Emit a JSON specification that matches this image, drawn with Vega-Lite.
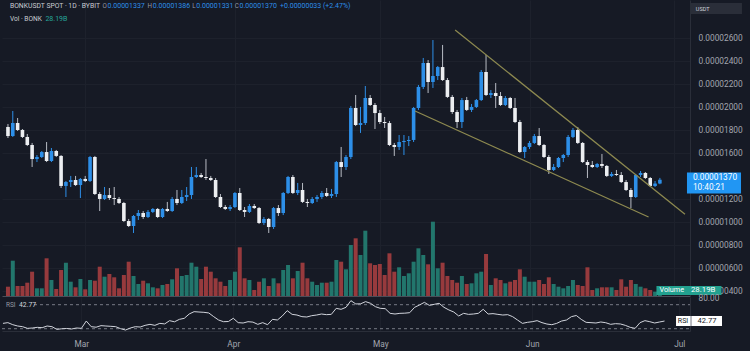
{
"$schema":"https://vega.github.io/schema/vega-lite/v6.json",
"padding":0,
"background":"#161a25",
"bounds":"flush",
"spacing":1,
"config":{"view":{"stroke":null},"text":{"font":"Roboto"},"axis":{"labelFont":"Roboto"}},
"datasets":{
"bars":[
{"date":"2025-02-13","open":0.00001829,"high":0.00001855,"low":0.00001733,"close":0.0000175,"volume":93000000000,"rsi":38.9},
{"date":"2025-02-14","open":0.0000175,"high":0.00001968,"low":0.00001742,"close":0.00001863,"volume":353000000000,"rsi":40.1},
{"date":"2025-02-15","open":0.00001863,"high":0.00001907,"low":0.00001794,"close":0.00001803,"volume":100000000000,"rsi":36.7},
{"date":"2025-02-16","open":0.00001803,"high":0.00001811,"low":0.00001733,"close":0.00001742,"volume":100000000000,"rsi":34.5},
{"date":"2025-02-17","open":0.00001742,"high":0.00001768,"low":0.00001663,"close":0.00001672,"volume":133000000000,"rsi":33.4},
{"date":"2025-02-18","open":0.00001672,"high":0.0000169,"low":0.00001481,"close":0.0000155,"volume":243000000000,"rsi":30.6},
{"date":"2025-02-19","open":0.0000155,"high":0.00001585,"low":0.00001524,"close":0.00001568,"volume":77000000000,"rsi":31.2},
{"date":"2025-02-20","open":0.00001568,"high":0.0000162,"low":0.00001559,"close":0.00001611,"volume":77000000000,"rsi":32.3},
{"date":"2025-02-21","open":0.00001611,"high":0.00001698,"low":0.00001524,"close":0.00001533,"volume":377000000000,"rsi":31.7},
{"date":"2025-02-22","open":0.00001533,"high":0.00001646,"low":0.00001524,"close":0.0000162,"volume":160000000000,"rsi":34.5},
{"date":"2025-02-23","open":0.0000162,"high":0.00001629,"low":0.00001568,"close":0.00001577,"volume":70000000000,"rsi":33.4},
{"date":"2025-02-24","open":0.00001577,"high":0.00001585,"low":0.00001298,"close":0.00001316,"volume":260000000000,"rsi":28.9},
{"date":"2025-02-25","open":0.00001316,"high":0.00001359,"low":0.0000122,"close":0.0000135,"volume":333000000000,"rsi":29.9},
{"date":"2025-02-26","open":0.0000135,"high":0.00001403,"low":0.00001307,"close":0.00001368,"volume":143000000000,"rsi":30.4},
{"date":"2025-02-27","open":0.00001368,"high":0.00001403,"low":0.00001316,"close":0.00001324,"volume":87000000000,"rsi":29.5},
{"date":"2025-02-28","open":0.00001324,"high":0.00001385,"low":0.00001211,"close":0.00001377,"volume":170000000000,"rsi":31.2},
{"date":"2025-03-01","open":0.00001377,"high":0.00001403,"low":0.0000135,"close":0.00001359,"volume":67000000000,"rsi":30.6},
{"date":"2025-03-02","open":0.00001359,"high":0.00001577,"low":0.0000135,"close":0.00001568,"volume":160000000000,"rsi":42.8},
{"date":"2025-03-03","open":0.00001568,"high":0.00001577,"low":0.00001237,"close":0.00001246,"volume":153000000000,"rsi":33.4},
{"date":"2025-03-04","open":0.00001246,"high":0.00001263,"low":0.00001098,"close":0.00001203,"volume":293000000000,"rsi":32.5},
{"date":"2025-03-05","open":0.00001203,"high":0.00001307,"low":0.00001194,"close":0.00001237,"volume":193000000000,"rsi":35.1},
{"date":"2025-03-06","open":0.00001237,"high":0.00001298,"low":0.00001194,"close":0.00001211,"volume":220000000000,"rsi":34.5},
{"date":"2025-03-07","open":0.00001211,"high":0.00001307,"low":0.0000115,"close":0.00001203,"volume":187000000000,"rsi":34.0},
{"date":"2025-03-08","open":0.00001203,"high":0.0000122,"low":0.00001159,"close":0.00001168,"volume":77000000000,"rsi":33.4},
{"date":"2025-03-09","open":0.00001168,"high":0.00001177,"low":0.00001003,"close":0.00001011,"volume":210000000000,"rsi":30.1},
{"date":"2025-03-10","open":0.00001011,"high":0.00001029,"low":0.00000959,"close":0.00000968,"volume":343000000000,"rsi":27.8},
{"date":"2025-03-11","open":0.00000968,"high":0.00001063,"low":0.00000907,"close":0.00001055,"volume":200000000000,"rsi":31.2},
{"date":"2025-03-12","open":0.00001055,"high":0.00001107,"low":0.0000102,"close":0.00001081,"volume":120000000000,"rsi":33.4},
{"date":"2025-03-13","open":0.00001081,"high":0.00001098,"low":0.00001029,"close":0.00001046,"volume":153000000000,"rsi":32.8},
{"date":"2025-03-14","open":0.00001046,"high":0.00001107,"low":0.00001037,"close":0.0000109,"volume":127000000000,"rsi":35.6},
{"date":"2025-03-15","open":0.0000109,"high":0.00001124,"low":0.00001081,"close":0.00001116,"volume":87000000000,"rsi":37.3},
{"date":"2025-03-16","open":0.00001116,"high":0.00001124,"low":0.00001037,"close":0.00001046,"volume":77000000000,"rsi":35.6},
{"date":"2025-03-17","open":0.00001046,"high":0.00001124,"low":0.00001037,"close":0.00001116,"volume":110000000000,"rsi":38.9},
{"date":"2025-03-18","open":0.00001116,"high":0.00001177,"low":0.0000109,"close":0.00001098,"volume":120000000000,"rsi":38.0},
{"date":"2025-03-19","open":0.00001098,"high":0.0000122,"low":0.0000109,"close":0.00001203,"volume":167000000000,"rsi":43.4},
{"date":"2025-03-20","open":0.00001203,"high":0.00001281,"low":0.0000115,"close":0.00001168,"volume":277000000000,"rsi":41.5},
{"date":"2025-03-21","open":0.00001168,"high":0.00001281,"low":0.00001159,"close":0.0000122,"volume":200000000000,"rsi":45.6},
{"date":"2025-03-22","open":0.0000122,"high":0.00001307,"low":0.00001185,"close":0.00001237,"volume":210000000000,"rsi":47.3},
{"date":"2025-03-23","open":0.00001237,"high":0.00001481,"low":0.00001203,"close":0.00001394,"volume":333000000000,"rsi":54.5},
{"date":"2025-03-24","open":0.00001394,"high":0.00001481,"low":0.00001385,"close":0.00001411,"volume":293000000000,"rsi":58.4},
{"date":"2025-03-25","open":0.00001411,"high":0.00001429,"low":0.00001385,"close":0.00001394,"volume":170000000000,"rsi":57.8},
{"date":"2025-03-26","open":0.00001394,"high":0.0000155,"low":0.00001368,"close":0.00001385,"volume":293000000000,"rsi":57.3},
{"date":"2025-03-27","open":0.00001385,"high":0.00001403,"low":0.00001359,"close":0.00001368,"volume":243000000000,"rsi":56.2},
{"date":"2025-03-28","open":0.00001368,"high":0.00001385,"low":0.00001211,"close":0.0000122,"volume":177000000000,"rsi":50.1},
{"date":"2025-03-29","open":0.0000122,"high":0.00001246,"low":0.00001124,"close":0.00001133,"volume":143000000000,"rsi":44.5},
{"date":"2025-03-30","open":0.00001133,"high":0.0000115,"low":0.00001107,"close":0.00001116,"volume":100000000000,"rsi":41.7},
{"date":"2025-03-31","open":0.00001116,"high":0.0000115,"low":0.00001098,"close":0.00001133,"volume":160000000000,"rsi":42.0},
{"date":"2025-04-01","open":0.00001133,"high":0.00001263,"low":0.00001124,"close":0.00001255,"volume":243000000000,"rsi":47.3},
{"date":"2025-04-02","open":0.00001255,"high":0.00001298,"low":0.00001098,"close":0.00001107,"volume":487000000000,"rsi":40.1},
{"date":"2025-04-03","open":0.00001107,"high":0.00001133,"low":0.00001046,"close":0.0000109,"volume":177000000000,"rsi":39.5},
{"date":"2025-04-04","open":0.0000109,"high":0.00001159,"low":0.00001081,"close":0.00001142,"volume":160000000000,"rsi":41.7},
{"date":"2025-04-05","open":0.00001142,"high":0.00001159,"low":0.00001116,"close":0.00001124,"volume":60000000000,"rsi":41.0},
{"date":"2025-04-06","open":0.00001124,"high":0.00001133,"low":0.00000985,"close":0.00000994,"volume":143000000000,"rsi":37.3},
{"date":"2025-04-07","open":0.00000994,"high":0.00001046,"low":0.00000977,"close":0.00001029,"volume":177000000000,"rsi":40.1},
{"date":"2025-04-08","open":0.00001029,"high":0.00001037,"low":0.00000907,"close":0.00000959,"volume":100000000000,"rsi":36.7},
{"date":"2025-04-09","open":0.00000959,"high":0.00001133,"low":0.00000942,"close":0.00001124,"volume":177000000000,"rsi":45.6},
{"date":"2025-04-10","open":0.00001124,"high":0.0000115,"low":0.00001055,"close":0.00001081,"volume":127000000000,"rsi":44.5},
{"date":"2025-04-11","open":0.00001081,"high":0.00001263,"low":0.00001063,"close":0.00001255,"volume":260000000000,"rsi":51.2},
{"date":"2025-04-12","open":0.00001255,"high":0.00001403,"low":0.00001246,"close":0.00001394,"volume":310000000000,"rsi":60.1},
{"date":"2025-04-13","open":0.00001394,"high":0.00001411,"low":0.00001246,"close":0.00001255,"volume":177000000000,"rsi":53.9},
{"date":"2025-04-14","open":0.00001255,"high":0.00001342,"low":0.00001237,"close":0.00001281,"volume":250000000000,"rsi":52.8},
{"date":"2025-04-15","open":0.00001281,"high":0.00001342,"low":0.00001168,"close":0.00001177,"volume":333000000000,"rsi":50.1},
{"date":"2025-04-16","open":0.00001177,"high":0.00001203,"low":0.00001133,"close":0.00001168,"volume":177000000000,"rsi":49.5},
{"date":"2025-04-17","open":0.00001168,"high":0.0000122,"low":0.00001159,"close":0.00001203,"volume":143000000000,"rsi":51.7},
{"date":"2025-04-18","open":0.00001203,"high":0.00001237,"low":0.00001177,"close":0.0000122,"volume":110000000000,"rsi":52.8},
{"date":"2025-04-19","open":0.0000122,"high":0.00001272,"low":0.00001203,"close":0.00001255,"volume":133000000000,"rsi":54.5},
{"date":"2025-04-20","open":0.00001255,"high":0.00001298,"low":0.0000122,"close":0.00001229,"volume":133000000000,"rsi":53.4},
{"date":"2025-04-21","open":0.00001229,"high":0.0000129,"low":0.00001211,"close":0.00001246,"volume":143000000000,"rsi":53.9},
{"date":"2025-04-22","open":0.00001246,"high":0.00001533,"low":0.0000122,"close":0.00001524,"volume":360000000000,"rsi":63.9},
{"date":"2025-04-23","open":0.00001524,"high":0.00001655,"low":0.00001394,"close":0.00001481,"volume":343000000000,"rsi":62.3},
{"date":"2025-04-24","open":0.00001481,"high":0.00001585,"low":0.00001455,"close":0.00001568,"volume":267000000000,"rsi":65.6},
{"date":"2025-04-25","open":0.00001568,"high":0.00002011,"low":0.0000155,"close":0.00001994,"volume":510000000000,"rsi":76.7},
{"date":"2025-04-26","open":0.00001994,"high":0.00002107,"low":0.00001837,"close":0.00001846,"volume":577000000000,"rsi":71.2},
{"date":"2025-04-27","open":0.00001846,"high":0.00002003,"low":0.00001777,"close":0.00001863,"volume":410000000000,"rsi":71.5},
{"date":"2025-04-28","open":0.00001863,"high":0.00002185,"low":0.00001846,"close":0.00002081,"volume":653000000000,"rsi":75.1},
{"date":"2025-04-29","open":0.00002081,"high":0.00002107,"low":0.00002011,"close":0.0000202,"volume":327000000000,"rsi":72.3},
{"date":"2025-04-30","open":0.0000202,"high":0.00002037,"low":0.00001811,"close":0.0000195,"volume":310000000000,"rsi":66.7},
{"date":"2025-05-01","open":0.0000195,"high":0.00001977,"low":0.00001855,"close":0.00001872,"volume":320000000000,"rsi":63.9},
{"date":"2025-05-02","open":0.00001872,"high":0.00001916,"low":0.0000182,"close":0.00001863,"volume":210000000000,"rsi":63.4},
{"date":"2025-05-03","open":0.00001863,"high":0.00001881,"low":0.00001663,"close":0.00001672,"volume":427000000000,"rsi":55.6},
{"date":"2025-05-04","open":0.00001672,"high":0.0000169,"low":0.00001577,"close":0.00001655,"volume":243000000000,"rsi":54.5},
{"date":"2025-05-05","open":0.00001655,"high":0.00001759,"low":0.00001629,"close":0.00001698,"volume":287000000000,"rsi":55.6},
{"date":"2025-05-06","open":0.00001698,"high":0.00001759,"low":0.00001585,"close":0.00001707,"volume":200000000000,"rsi":55.9},
{"date":"2025-05-07","open":0.00001707,"high":0.0000175,"low":0.00001663,"close":0.00001716,"volume":227000000000,"rsi":56.7},
{"date":"2025-05-08","open":0.00001716,"high":0.00002003,"low":0.00001698,"close":0.00001994,"volume":343000000000,"rsi":65.6},
{"date":"2025-05-09","open":0.00001994,"high":0.00002194,"low":0.00001977,"close":0.00002177,"volume":477000000000,"rsi":69.5},
{"date":"2025-05-10","open":0.00002177,"high":0.00002429,"low":0.00002159,"close":0.00002385,"volume":410000000000,"rsi":73.9},
{"date":"2025-05-11","open":0.00002385,"high":0.00002411,"low":0.00002124,"close":0.0000222,"volume":317000000000,"rsi":68.9},
{"date":"2025-05-12","open":0.0000222,"high":0.00002585,"low":0.00002168,"close":0.00002272,"volume":743000000000,"rsi":70.6},
{"date":"2025-05-13","open":0.00002272,"high":0.00002359,"low":0.00002237,"close":0.0000235,"volume":277000000000,"rsi":72.3},
{"date":"2025-05-14","open":0.0000235,"high":0.00002542,"low":0.00002229,"close":0.00002237,"volume":333000000000,"rsi":65.6},
{"date":"2025-05-15","open":0.00002237,"high":0.00002255,"low":0.00002081,"close":0.0000209,"volume":200000000000,"rsi":61.2},
{"date":"2025-05-16","open":0.0000209,"high":0.00002107,"low":0.00001942,"close":0.00001959,"volume":160000000000,"rsi":57.8},
{"date":"2025-05-17","open":0.00001959,"high":0.00001977,"low":0.0000182,"close":0.00001872,"volume":133000000000,"rsi":51.2},
{"date":"2025-05-18","open":0.00001872,"high":0.00002081,"low":0.0000182,"close":0.00002063,"volume":200000000000,"rsi":55.6},
{"date":"2025-05-19","open":0.00002063,"high":0.0000209,"low":0.00001968,"close":0.00001977,"volume":120000000000,"rsi":53.9},
{"date":"2025-05-20","open":0.00001977,"high":0.00002029,"low":0.00001959,"close":0.00002003,"volume":127000000000,"rsi":54.5},
{"date":"2025-05-21","open":0.00002003,"high":0.00002072,"low":0.00001994,"close":0.00002063,"volume":227000000000,"rsi":55.6},
{"date":"2025-05-22","open":0.00002063,"high":0.00002324,"low":0.00002055,"close":0.00002307,"volume":243000000000,"rsi":62.3},
{"date":"2025-05-23","open":0.00002307,"high":0.00002455,"low":0.00002098,"close":0.00002107,"volume":420000000000,"rsi":54.5},
{"date":"2025-05-24","open":0.00002107,"high":0.0000215,"low":0.00002081,"close":0.00002124,"volume":110000000000,"rsi":55.1},
{"date":"2025-05-25","open":0.00002124,"high":0.00002211,"low":0.00001994,"close":0.00002098,"volume":177000000000,"rsi":53.9},
{"date":"2025-05-26","open":0.00002098,"high":0.00002133,"low":0.00002011,"close":0.0000202,"volume":160000000000,"rsi":52.8},
{"date":"2025-05-27","open":0.0000202,"high":0.00002098,"low":0.00002011,"close":0.00002081,"volume":127000000000,"rsi":53.4},
{"date":"2025-05-28","open":0.00002081,"high":0.0000209,"low":0.00001985,"close":0.00001994,"volume":143000000000,"rsi":50.1},
{"date":"2025-05-29","open":0.00001994,"high":0.00002081,"low":0.00001863,"close":0.00001872,"volume":160000000000,"rsi":44.5},
{"date":"2025-05-30","open":0.00001872,"high":0.0000189,"low":0.00001603,"close":0.00001611,"volume":267000000000,"rsi":38.9},
{"date":"2025-05-31","open":0.00001611,"high":0.00001663,"low":0.00001559,"close":0.00001655,"volume":193000000000,"rsi":40.6},
{"date":"2025-06-01","open":0.00001655,"high":0.00001707,"low":0.00001637,"close":0.0000169,"volume":143000000000,"rsi":41.7},
{"date":"2025-06-02","open":0.0000169,"high":0.00001768,"low":0.00001681,"close":0.0000175,"volume":143000000000,"rsi":43.4},
{"date":"2025-06-03","open":0.0000175,"high":0.0000182,"low":0.00001663,"close":0.00001672,"volume":160000000000,"rsi":40.1},
{"date":"2025-06-04","open":0.00001672,"high":0.00001681,"low":0.00001559,"close":0.00001568,"volume":120000000000,"rsi":37.8},
{"date":"2025-06-05","open":0.00001568,"high":0.00001585,"low":0.0000142,"close":0.00001455,"volume":187000000000,"rsi":36.7},
{"date":"2025-06-06","open":0.00001455,"high":0.00001507,"low":0.00001446,"close":0.00001481,"volume":120000000000,"rsi":38.9},
{"date":"2025-06-07","open":0.00001481,"high":0.00001568,"low":0.00001472,"close":0.00001559,"volume":93000000000,"rsi":42.8},
{"date":"2025-06-08","open":0.00001559,"high":0.00001594,"low":0.00001524,"close":0.00001585,"volume":77000000000,"rsi":44.5},
{"date":"2025-06-09","open":0.00001585,"high":0.00001759,"low":0.00001568,"close":0.00001742,"volume":100000000000,"rsi":50.1},
{"date":"2025-06-10","open":0.00001742,"high":0.0000182,"low":0.00001733,"close":0.00001803,"volume":160000000000,"rsi":52.0},
{"date":"2025-06-11","open":0.00001803,"high":0.00001829,"low":0.00001681,"close":0.0000169,"volume":110000000000,"rsi":45.6},
{"date":"2025-06-12","open":0.0000169,"high":0.00001698,"low":0.00001516,"close":0.00001524,"volume":100000000000,"rsi":40.6},
{"date":"2025-06-13","open":0.00001524,"high":0.00001542,"low":0.00001385,"close":0.00001498,"volume":287000000000,"rsi":40.1},
{"date":"2025-06-14","open":0.00001498,"high":0.00001533,"low":0.00001472,"close":0.00001481,"volume":60000000000,"rsi":39.5},
{"date":"2025-06-15","open":0.00001481,"high":0.00001516,"low":0.00001472,"close":0.00001507,"volume":77000000000,"rsi":41.2},
{"date":"2025-06-16","open":0.00001507,"high":0.00001594,"low":0.00001472,"close":0.0000149,"volume":87000000000,"rsi":40.0},
{"date":"2025-06-17","open":0.0000149,"high":0.00001498,"low":0.00001394,"close":0.00001403,"volume":87000000000,"rsi":37.3},
{"date":"2025-06-18","open":0.00001403,"high":0.00001437,"low":0.00001394,"close":0.0000142,"volume":87000000000,"rsi":38.4},
{"date":"2025-06-19","open":0.0000142,"high":0.00001455,"low":0.00001403,"close":0.00001411,"volume":60000000000,"rsi":37.9},
{"date":"2025-06-20","open":0.00001411,"high":0.00001437,"low":0.00001342,"close":0.0000135,"volume":167000000000,"rsi":35.6},
{"date":"2025-06-21","open":0.0000135,"high":0.00001368,"low":0.00001272,"close":0.00001281,"volume":93000000000,"rsi":32.3},
{"date":"2025-06-22","open":0.00001281,"high":0.00001298,"low":0.00001124,"close":0.0000122,"volume":160000000000,"rsi":30.6},
{"date":"2025-06-23","open":0.0000122,"high":0.0000142,"low":0.00001211,"close":0.00001411,"volume":120000000000,"rsi":40.1},
{"date":"2025-06-24","open":0.00001411,"high":0.00001446,"low":0.00001394,"close":0.00001429,"volume":93000000000,"rsi":43.4},
{"date":"2025-06-25","open":0.00001429,"high":0.00001437,"low":0.00001377,"close":0.00001385,"volume":77000000000,"rsi":41.7},
{"date":"2025-06-26","open":0.00001385,"high":0.00001394,"low":0.00001307,"close":0.00001316,"volume":60000000000,"rsi":39.5},
{"date":"2025-06-27","open":0.00001316,"high":0.00001359,"low":0.00001307,"close":0.00001337,"volume":43000000000,"rsi":41.2},
{"date":"2025-06-28","open":0.00001337,"high":0.00001386,"low":0.00001331,"close":0.0000137,"volume":28190000000,"rsi":42.77}
],
"trend":[
{"line":"upper","date":"2025-05-16T14:24:00Z","price":0.00002672},
{"line":"upper","date":"2025-07-03T04:48:00Z","price":0.0000107},
{"line":"lower","date":"2025-05-08T07:00:00Z","price":0.00001968},
{"line":"lower","date":"2025-06-25T15:36:00Z","price":0.00001046}
]
},
"vconcat":[
{
"width":688,"height":296,
"layer":[
{"layer":[
{"data":{"name":"bars"},"mark":{"type":"bar","size":4},
"encoding":{
"x":{"field":"date","type":"temporal","scale":{"type":"utc","domain":[{"year":2025,"month":2,"date":12,"hours":19,"minutes":12,"utc":true},{"year":2025,"month":7,"date":3,"hours":4,"minutes":48,"utc":true}]},
"axis":{"values":[{"year":2025,"month":3,"date":1,"utc":true},{"year":2025,"month":4,"date":1,"utc":true},{"year":2025,"month":5,"date":1,"utc":true},{"year":2025,"month":6,"date":1,"utc":true},{"year":2025,"month":7,"date":1,"utc":true}],"tickCount":30,"labels":false,"ticks":false,"title":null,"grid":true,"gridColor":"#1d212c","domain":true,"domainColor":"#4a4e59","minExtent":0,"maxExtent":0}},
"y":{"field":"volume","type":"quantitative","scale":{"domain":[0,2960000000000],"nice":false,"zero":true},"axis":null},
"color":{"condition":{"test":"datum.close >= datum.open","value":"#22766c"},"value":"#973a3d"}}},
{"data":{"values":[{}]},"mark":{"type":"rect","color":"#22a08f"},
"encoding":{"x":{"datum":{"year":2025,"month":6,"date":27,"hours":6,"minutes":58,"utc":true},"type":"temporal"},"x2":{"datum":{"year":2025,"month":7,"date":10,"hours":18,"minutes":14,"utc":true}},"y":{"datum":10000000000,"type":"quantitative","axis":null},"y2":{"datum":100000000000}}},
{"data":{"values":[{}]},"mark":{"type":"text","text":"Volume","align":"left","baseline":"middle","fontSize":7.3,"color":"#ffffff"},
"encoding":{"x":{"datum":{"year":2025,"month":6,"date":27,"hours":21,"minutes":36,"utc":true},"type":"temporal"},"y":{"datum":56000000000,"type":"quantitative","axis":null}}},
{"data":{"values":[{}]},"mark":{"type":"text","text":"28.19B","align":"left","baseline":"middle","fontSize":7.8,"color":"#ffffff"},
"encoding":{"x":{"datum":{"year":2025,"month":7,"date":4,"hours":10,"minutes":19,"utc":true},"type":"temporal"},"y":{"datum":56000000000,"type":"quantitative","axis":null}}}
]},
{"layer":[
{"data":{"name":"bars"},"mark":{"type":"rule","strokeWidth":1},
"encoding":{"x":{"field":"date","type":"temporal"},
"y":{"field":"low","type":"quantitative","scale":{"domain":[0.000003591,0.00002933],"nice":false,"zero":false},
"axis":{"orient":"right","values":[0.000004,0.000006,0.000008,0.00001,0.000012,0.000016,0.000018,0.00002,0.000022,0.000024,0.000026],"tickCount":30,"format":".8f","labelOverlap":false,"labelFontSize":8.3,"labelColor":"#a3a6af","labelPadding":8,"ticks":false,"domain":true,"domainColor":"#2a2e39","grid":true,"gridColor":"#1d212c","title":null,"minExtent":62,"maxExtent":62}},
"y2":{"field":"high"},
"color":{"condition":{"test":"datum.close >= datum.open","value":"#2d8fe8"},"value":"#b8bcc4"}}},
{"data":{"name":"bars"},"mark":{"type":"bar","size":3.6},
"encoding":{"x":{"field":"date","type":"temporal"},"y":{"field":"open","type":"quantitative"},"y2":{"field":"close"},
"color":{"condition":{"test":"datum.close >= datum.open","value":"#2d8fe8"},"value":"#eceef1"}}},
{"data":{"name":"trend"},"mark":{"type":"line","color":"#8e8a50","strokeWidth":1.2},
"encoding":{"x":{"field":"date","type":"temporal"},"y":{"field":"price","type":"quantitative"},"detail":{"field":"line"}}},
{"data":{"values":[{}]},"mark":{"type":"text","text":"BONKUSDT SPOT · 1D · BYBIT","align":"left","baseline":"middle","fontSize":6.8,"color":"#c9ccd3"},
"encoding":{"x":{"datum":{"year":2025,"month":2,"date":13,"hours":9,"minutes":50,"utc":true},"type":"temporal"},"y":{"datum":0.00002881,"type":"quantitative"}}},
{"data":{"values":[{}]},"mark":{"type":"text","text":"O","align":"left","baseline":"middle","fontSize":6.3,"color":"#9598a1"},
"encoding":{"x":{"datum":{"year":2025,"month":3,"date":4,"hours":14,"minutes":10,"utc":true},"type":"temporal"},"y":{"datum":0.00002881,"type":"quantitative"}}},
{"data":{"values":[{}]},"mark":{"type":"text","text":"0.00001337","align":"left","baseline":"middle","fontSize":7,"color":"#2d8fe8"},
"encoding":{"x":{"datum":{"year":2025,"month":3,"date":5,"hours":14,"minutes":38,"utc":true},"type":"temporal"},"y":{"datum":0.00002881,"type":"quantitative"}}},
{"data":{"values":[{}]},"mark":{"type":"text","text":"H","align":"left","baseline":"middle","fontSize":6.3,"color":"#9598a1"},
"encoding":{"x":{"datum":{"year":2025,"month":3,"date":13,"hours":21,"minutes":7,"utc":true},"type":"temporal"},"y":{"datum":0.00002881,"type":"quantitative"}}},
{"data":{"values":[{}]},"mark":{"type":"text","text":"0.00001386","align":"left","baseline":"middle","fontSize":7,"color":"#2d8fe8"},
"encoding":{"x":{"datum":{"year":2025,"month":3,"date":15,"hours":0,"minutes":0,"utc":true},"type":"temporal"},"y":{"datum":0.00002881,"type":"quantitative"}}},
{"data":{"values":[{}]},"mark":{"type":"text","text":"L","align":"left","baseline":"middle","fontSize":6.3,"color":"#9598a1"},
"encoding":{"x":{"datum":{"year":2025,"month":3,"date":23,"hours":3,"minutes":50,"utc":true},"type":"temporal"},"y":{"datum":0.00002881,"type":"quantitative"}}},
{"data":{"values":[{}]},"mark":{"type":"text","text":"0.00001331","align":"left","baseline":"middle","fontSize":7,"color":"#2d8fe8"},
"encoding":{"x":{"datum":{"year":2025,"month":3,"date":23,"hours":23,"minutes":31,"utc":true},"type":"temporal"},"y":{"datum":0.00002881,"type":"quantitative"}}},
{"data":{"values":[{}]},"mark":{"type":"text","text":"C","align":"left","baseline":"middle","fontSize":6.3,"color":"#9598a1"},
"encoding":{"x":{"datum":{"year":2025,"month":3,"date":31,"hours":22,"minutes":34,"utc":true},"type":"temporal"},"y":{"datum":0.00002881,"type":"quantitative"}}},
{"data":{"values":[{}]},"mark":{"type":"text","text":"0.00001370","align":"left","baseline":"middle","fontSize":7,"color":"#2d8fe8"},
"encoding":{"x":{"datum":{"year":2025,"month":4,"date":1,"hours":23,"minutes":2,"utc":true},"type":"temporal"},"y":{"datum":0.00002881,"type":"quantitative"}}},
{"data":{"values":[{}]},"mark":{"type":"text","text":"+0.00000033 (+2.47%)","align":"left","baseline":"middle","fontSize":7,"color":"#2d8fe8"},
"encoding":{"x":{"datum":{"year":2025,"month":4,"date":10,"hours":7,"minutes":55,"utc":true},"type":"temporal"},"y":{"datum":0.00002881,"type":"quantitative"}}},
{"data":{"values":[{}]},"mark":{"type":"text","text":"Vol · BONK","align":"left","baseline":"middle","fontSize":6.6,"color":"#c9ccd3"},
"encoding":{"x":{"datum":{"year":2025,"month":2,"date":13,"hours":9,"minutes":50,"utc":true},"type":"temporal"},"y":{"datum":0.00002772,"type":"quantitative"}}},
{"data":{"values":[{}]},"mark":{"type":"text","text":"28.19B","align":"left","baseline":"middle","fontSize":7,"color":"#26a69a"},
"encoding":{"x":{"datum":{"year":2025,"month":2,"date":20,"hours":18,"minutes":14,"utc":true},"type":"temporal"},"y":{"datum":0.00002772,"type":"quantitative"}}},
{"data":{"values":[{}]},"mark":{"type":"rect","color":"#2196f3"},
"encoding":{"x":{"datum":{"year":2025,"month":7,"date":3,"hours":14,"minutes":38,"utc":true},"type":"temporal"},"x2":{"datum":{"year":2025,"month":7,"date":14,"hours":19,"minutes":12,"utc":true}},"y":{"datum":0.00001433,"type":"quantitative"},"y2":{"datum":0.0000125}}},
{"data":{"values":[{}]},"mark":{"type":"text","text":"0.00001370","align":"left","baseline":"middle","fontSize":8.3,"color":"#ffffff"},
"encoding":{"x":{"datum":{"year":2025,"month":7,"date":4,"hours":20,"minutes":10,"utc":true},"type":"temporal"},"y":{"datum":0.00001381,"type":"quantitative"}}},
{"data":{"values":[{}]},"mark":{"type":"text","text":"10:40:21","align":"left","baseline":"middle","fontSize":8.3,"color":"#ffffff"},
"encoding":{"x":{"datum":{"year":2025,"month":7,"date":4,"hours":20,"minutes":10,"utc":true},"type":"temporal"},"y":{"datum":0.00001298,"type":"quantitative"}}},
{"data":{"values":[{}]},"mark":{"type":"rect","color":"#2a2e39"},
"encoding":{"x":{"datum":{"year":2025,"month":7,"date":4,"hours":10,"minutes":19,"utc":true},"type":"temporal"},"x2":{"datum":{"year":2025,"month":7,"date":15,"hours":0,"minutes":0,"utc":true}},"y":{"datum":0.00002907,"type":"quantitative"},"y2":{"datum":0.00002811}}},
{"data":{"values":[{}]},"mark":{"type":"text","text":"USDT","align":"left","baseline":"middle","fontSize":5.5,"color":"#d1d4dc"},
"encoding":{"x":{"datum":{"year":2025,"month":7,"date":5,"hours":10,"minutes":48,"utc":true},"type":"temporal"},"y":{"datum":0.00002859,"type":"quantitative"}}}
]}
],
"resolve":{"scale":{"y":"independent"}}
},
{
"width":688,"height":34,
"layer":[
{"data":{"values":[{}]},"mark":{"type":"rule","color":"#787b86","strokeDash":[3,3],"strokeWidth":1},
"encoding":{"x":{"datum":{"year":2025,"month":2,"date":19,"hours":7,"minutes":55,"utc":true},"type":"temporal"},"x2":{"datum":{"year":2025,"month":7,"date":3,"hours":4,"minutes":48,"utc":true}},"y":{"datum":70,"type":"quantitative"}}},
{"data":{"values":[{}]},"mark":{"type":"rule","color":"#787b86","strokeDash":[3,3],"strokeWidth":1},
"encoding":{"x":{"datum":{"year":2025,"month":2,"date":12,"hours":19,"minutes":12,"utc":true},"type":"temporal"},"x2":{"datum":{"year":2025,"month":7,"date":3,"hours":4,"minutes":48,"utc":true}},"y":{"datum":30,"type":"quantitative"}}},
{"data":{"name":"bars"},"mark":{"type":"line","color":"#d1d4dc","strokeWidth":1},
"encoding":{
"x":{"field":"date","type":"temporal","scale":{"type":"utc","domain":[{"year":2025,"month":2,"date":12,"hours":19,"minutes":12,"utc":true},{"year":2025,"month":7,"date":3,"hours":4,"minutes":48,"utc":true}]},
"axis":{"values":[{"year":2025,"month":3,"date":1,"utc":true},{"year":2025,"month":4,"date":1,"utc":true},{"year":2025,"month":5,"date":1,"utc":true},{"year":2025,"month":6,"date":1,"utc":true},{"year":2025,"month":7,"date":1,"utc":true}],"tickCount":30,"format":"%b","labelFlush":false,"labelOverlap":false,"labelFontSize":8.3,"labelColor":"#a3a6af","labelPadding":8,"ticks":false,"title":null,"grid":true,"gridColor":"#1d212c","domain":true,"domainColor":"#2a2e39","minExtent":20,"maxExtent":20}},
"y":{"field":"rsi","type":"quantitative","scale":{"domain":[26.2,82.8],"nice":false,"zero":false},
"axis":{"orient":"right","values":[80],"format":".2f","labelOverlap":false,"labelFontSize":8.3,"labelColor":"#a3a6af","labelPadding":8,"ticks":false,"grid":false,"domain":true,"domainColor":"#2a2e39","title":null,"minExtent":62,"maxExtent":62}}}},
{"data":{"values":[{}]},"mark":{"type":"text","text":"RSI","align":"left","baseline":"middle","fontSize":6.5,"color":"#9598a1"},
"encoding":{"x":{"datum":{"year":2025,"month":2,"date":13,"hours":14,"minutes":38,"utc":true},"type":"temporal"},"y":{"datum":70,"type":"quantitative"}}},
{"data":{"values":[{}]},"mark":{"type":"text","text":"42.77","align":"left","baseline":"middle","fontSize":6.8,"color":"#d1d4dc"},
"encoding":{"x":{"datum":{"year":2025,"month":2,"date":16,"hours":6,"minutes":29,"utc":true},"type":"temporal"},"y":{"datum":70,"type":"quantitative"}}},
{"data":{"values":[{}]},"mark":{"type":"rect","color":"#ffffff"},
"encoding":{"x":{"datum":{"year":2025,"month":6,"date":30,"hours":8,"minutes":24,"utc":true},"type":"temporal"},"x2":{"datum":{"year":2025,"month":7,"date":9,"hours":17,"minutes":31,"utc":true}},"y":{"datum":34.4,"type":"quantitative"},"y2":{"datum":51.1}}},
{"data":{"values":[{}]},"mark":{"type":"rule","color":"#787b86","strokeWidth":1},
"encoding":{"x":{"datum":{"year":2025,"month":7,"date":3,"hours":9,"minutes":50,"utc":true},"type":"temporal"},"y":{"datum":34.4,"type":"quantitative"},"y2":{"datum":51.1}}},
{"data":{"values":[{}]},"mark":{"type":"text","text":"RSI","align":"center","baseline":"middle","fontSize":7,"color":"#131722"},
"encoding":{"x":{"datum":{"year":2025,"month":7,"date":1,"hours":18,"minutes":43,"utc":true},"type":"temporal"},"y":{"datum":42.77,"type":"quantitative"}}},
{"data":{"values":[{}]},"mark":{"type":"text","text":"42.77","align":"center","baseline":"middle","fontSize":7.5,"color":"#131722"},
"encoding":{"x":{"datum":{"year":2025,"month":7,"date":6,"hours":16,"minutes":5,"utc":true},"type":"temporal"},"y":{"datum":42.77,"type":"quantitative"}}}
]
}
]
}
